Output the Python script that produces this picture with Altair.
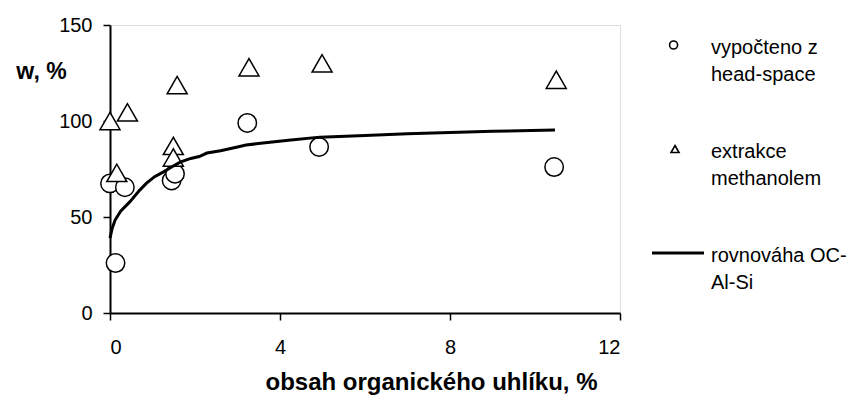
import altair as alt
import pandas as pd

# --- data ---
hs_x = [0.0, 0.13, 0.35, 1.45, 1.53, 3.23, 4.92, 10.45]
hs_y = [67.5, 26.0, 65.5, 69.0, 72.5, 99.0, 86.5, 76.0]

ex_x = [0.0, 0.16, 0.41, 1.49, 1.49, 1.58, 3.27, 4.99, 10.5]
ex_y = [100.0, 73.0, 104.5, 87.0, 81.0, 118.7, 128.0, 130.0, 121.5]

eq_x = [0.0, 0.05, 0.12, 0.25, 0.47, 0.7, 0.86, 1.05, 1.25, 1.45, 1.65, 1.9,
        2.1, 2.28, 2.6, 3.0, 3.2, 3.6, 4.2, 4.94, 6.0, 7.0, 8.0, 9.0, 10.47]
eq_y = [39.0, 44.0, 48.4, 53.0, 58.0, 64.0, 67.6, 71.0, 73.4, 76.0, 78.6, 80.5,
        81.5, 83.3, 84.5, 86.5, 87.5, 88.5, 90.0, 91.6, 92.5, 93.3, 94.0, 94.6, 95.3]

series_names = ["vypočteno z\nhead-space", "extrakce\nmethanolem", "rovnováha OC-\nAl-Si"]

x_ticks = [0, 4, 8, 12]
y_ticks = [0, 50, 100, 150]

hs = pd.DataFrame({"x": hs_x, "y": hs_y, "series": series_names[0]})
ex = pd.DataFrame({"x": ex_x, "y": ex_y, "series": series_names[1]})
eq = pd.DataFrame({"x": eq_x, "y": eq_y, "series": series_names[2]})
allpts = pd.concat([hs, ex, eq], ignore_index=True)

FONT = "Liberation Sans"

# legend symbol shapes (unit-square paths, scaled by the legend symbol size)
LEG_CIRCLE = "M-0.016,-0.346A0.154,0.154,0,1,1,-0.324,-0.346A0.154,0.154,0,1,1,-0.016,-0.346Z"
LEG_TRIANGLE = "M-0.115,-0.481L0.039,-0.211L-0.269,-0.211Z"
LEG_LINE = "M-1,-0.371H1M-1,-0.321H1"

xenc = alt.X("x:Q", scale=alt.Scale(domain=[0, 12], nice=False, zero=False),
             axis=alt.Axis(values=x_ticks, title="obsah organického uhlíku, %",
                           grid=False, domainColor="black", domainWidth=2,
                           tickColor="black", tickWidth=1.5, tickSize=7,
                           labelPadding=17, labelFontSize=20, labelFont=FONT,
                           labelColor="black",
                           titleFont=FONT, titleFontSize=24, titleFontWeight="bold",
                           titleColor="black", titleX=321, titleY=69,
                           titleAnchor="start", titleAlign="center",
                           titleBaseline="middle"))
yenc = alt.Y("y:Q", scale=alt.Scale(domain=[0, 150], nice=False, zero=False),
             axis=alt.Axis(values=y_ticks, title="w, %", grid=False,
                           domainColor="black", domainWidth=2,
                           tickColor="black", tickWidth=1.5, tickSize=7,
                           labelPadding=11, labelFontSize=20, labelFont=FONT,
                           labelColor="black",
                           titleFont=FONT, titleFontSize=23, titleFontWeight="bold",
                           titleColor="black", titleAngle=0, titleX=-69, titleY=46,
                           titleAlign="center", titleBaseline="middle"))

circles = alt.Chart(hs).mark_point(shape="circle", size=340, filled=True,
                                   fill="white", stroke="black",
                                   strokeWidth=1.5, opacity=1).encode(x=xenc, y=yenc)
triangles = alt.Chart(ex).mark_point(shape="triangle-up", size=400, filled=True,
                                     fill="white", stroke="black",
                                     strokeWidth=1.5, opacity=1).encode(x=xenc, y=yenc)
line = alt.Chart(eq).mark_line(color="black", strokeWidth=3).encode(x=xenc, y=yenc)

legend = alt.Legend(title=None, orient="none", legendX=541, legendY=2,
                    labelExpr="split(datum.label, '\\n')",
                    labelFont=FONT, labelFontSize=20, labelColor="black",
                    labelBaseline="alphabetic", labelOffset=6, labelLimit=300,
                    rowPadding=46, symbolStrokeColor="black", symbolSize=2700,
                    symbolStrokeWidth=1.6, padding=0)

legend_layer = alt.Chart(allpts).transform_filter("false").mark_point(
    filled=False, opacity=1).encode(
    x=alt.X("x:Q"), y=alt.Y("y:Q"),
    shape=alt.Shape("series:N", scale=alt.Scale(domain=series_names,
                    range=[LEG_CIRCLE, LEG_TRIANGLE, LEG_LINE]), legend=legend),
)

chart = alt.layer(circles, triangles, line, legend_layer).properties(
    width=510, height=288,
    padding={"left": 102, "top": 17, "right": 230, "bottom": 86},
    autosize="none",
).configure_view(stroke="#8c8c8c", strokeWidth=1.5).configure(
    background="white",
    style={"guide-label": {"lineHeight": 27}},
)

chart.save("out.html", embed_options={"renderer": "svg", "actions": False})
